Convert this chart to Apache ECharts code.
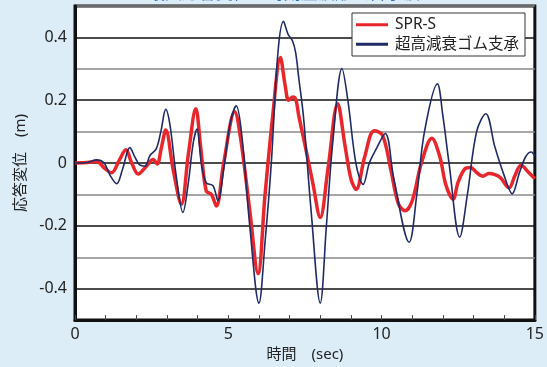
<!DOCTYPE html>
<html>
<head>
<meta charset="utf-8">
<script src="https://cdn.jsdelivr.net/npm/echarts@6/dist/echarts.min.js"></script>
<style>
  html, body { margin: 0; padding: 0; background: #ddedf8; }
  #chart { width: 547px; height: 367px; }
</style>
</head>
<body>
<div id="chart"></div>
<script>
// Response displacement time histories (seconds, metres)
const seriesNames = ['SPR-S', '超高減衰ゴム支承'];

const sprTime = [0, 0.4, 0.71, 0.95, 1.19, 1.45, 1.66, 1.85, 2.06, 2.33, 2.55, 2.68, 2.82, 2.96, 3.2, 3.47, 3.7, 3.94, 4.1, 4.28, 4.45, 4.61, 4.85, 5.21, 5.4, 5.7, 5.97, 6.2, 6.45, 6.7, 6.85, 6.97, 7.1, 7.2, 7.3, 7.48, 7.75, 8.0, 8.25, 8.57, 8.8, 9.0, 9.17, 9.45, 9.76, 10.03, 10.3, 10.55, 10.77, 11.0, 11.3, 11.64, 11.9, 12.1, 12.33, 12.5, 12.72, 12.9, 13.1, 13.3, 13.5, 13.7, 13.88, 14.16, 14.35, 14.55, 14.8, 15.0];
const sprDisp = [0, 0.002, 0.005, -0.015, -0.031, 0.01, 0.042, 0.0, -0.035, -0.01, 0.011, -0.003, 0.05, 0.105, -0.02, -0.131, 0.03, 0.173, 0.05, -0.089, -0.1, -0.137, 0.0, 0.163, 0.08, -0.15, -0.352, -0.1, 0.15, 0.336, 0.25, 0.2, 0.21, 0.203, 0.15, 0.068, -0.06, -0.173, -0.02, 0.189, 0.06, -0.05, -0.084, 0.02, 0.103, 0.089, -0.02, -0.13, -0.152, -0.12, 0.0, 0.079, 0.02, -0.07, -0.115, -0.06, -0.018, -0.014, -0.03, -0.042, -0.033, -0.037, -0.047, -0.079, -0.04, -0.007, -0.03, -0.05];

const hdrTime = [0, 0.4, 0.7, 0.95, 1.15, 1.36, 1.55, 1.79, 1.95, 2.1, 2.28, 2.45, 2.65, 2.8, 2.96, 3.1, 3.3, 3.52, 3.7, 3.85, 3.98, 4.12, 4.28, 4.5, 4.66, 4.85, 5.05, 5.26, 5.45, 5.7, 6.0, 6.2, 6.4, 6.62, 6.8, 6.95, 7.1, 7.2, 7.3, 7.45, 7.7, 8.0, 8.2, 8.41, 8.71, 8.9, 9.17, 9.4, 9.6, 9.8, 10.12, 10.4, 10.9, 11.15, 11.4, 11.82, 12.0, 12.2, 12.55, 12.8, 13.1, 13.4, 13.7, 14.0, 14.26, 14.5, 14.7, 14.88, 15.0];
const hdrDisp = [0, 0.002, 0.01, 0.0, -0.04, -0.066, -0.02, 0.049, 0.02, -0.005, -0.01, 0.025, 0.045, 0.1, 0.171, 0.12, -0.04, -0.157, -0.06, 0.06, 0.108, 0.0, -0.063, -0.072, -0.119, -0.02, 0.12, 0.182, 0.08, -0.2, -0.446, -0.25, -0.005, 0.352, 0.451, 0.41, 0.388, 0.35, 0.27, 0.15, -0.15, -0.446, -0.2, 0.068, 0.301, 0.2, -0.005, -0.068, 0.0, 0.04, 0.094, -0.05, -0.252, -0.1, 0.1, 0.252, 0.15, 0.0, -0.236, -0.1, 0.1, 0.157, 0.05, -0.04, -0.098, -0.03, 0.02, 0.035, 0.022];

const xTicks = [0, 5, 10, 15];
const yTickLabels = [-0.4, -0.2, 0, 0.2, 0.4];

const pairs = (t, v) => t.map((x, i) => [x, v[i]]);
const font = '"Noto Sans", "Noto Sans CJK JP", sans-serif';

const chart = echarts.init(document.getElementById('chart'), null, { renderer: 'canvas' });
chart.setOption({
  backgroundColor: '#ddedf8',
  animation: false,
  title: {
    text: '最大応答変位の時刻歴波形（告示波）',
    left: 143,
    top: -19,
    textStyle: { color: '#2a6fb8', fontSize: 17, fontWeight: 'normal', fontFamily: font }
  },
  grid: {
    left: 75, right: 11, top: 6, bottom: 43,
    show: true, backgroundColor: '#ffffff', borderColor: '#111', borderWidth: 3
  },
  legend: {
    data: seriesNames,
    orient: 'vertical',
    left: 352, top: 13,
    padding: [4, 6, 4, 4],
    itemGap: 4,
    itemWidth: 32, itemHeight: 3,
    icon: 'rect',
    backgroundColor: '#ffffff',
    borderColor: '#333', borderWidth: 1,
    textStyle: { color: '#222', fontSize: 15.5, fontFamily: font, padding: [0, 0, 0, 2] }
  },
  xAxis: {
    type: 'value', min: 0, max: 15, interval: 5,
    name: '時間　(sec)', nameLocation: 'middle', nameGap: 26,
    nameTextStyle: { color: '#222', fontSize: 15, fontFamily: font },
    axisLine: { show: true, onZero: false, lineStyle: { color: '#111', width: 3 } },
    axisTick: { show: true, inside: true, length: 5, lineStyle: { color: '#444' } },
    minorTick: { show: true, splitNumber: 5, length: 5, lineStyle: { color: '#444' } },
    splitLine: { show: false },
    axisLabel: {
      color: '#222', fontSize: 16, fontFamily: font, margin: 6,
      formatter: v => (xTicks.includes(v) ? String(v) : '')
    }
  },
  yAxis: {
    type: 'value', min: -0.5, max: 0.5, interval: 0.1,
    name: '応答変位　(m)', nameLocation: 'middle', nameGap: 36, nameRotate: 90,
    nameTextStyle: { color: '#222', fontSize: 15, fontFamily: font },
    axisLine: { show: true, onZero: false, lineStyle: { color: '#111', width: 3 } },
    axisTick: { show: false },
    splitLine: { show: true, lineStyle: { color: ['#888', '#111'], width: 1.5 } },
    axisLabel: {
      color: '#222', fontSize: 16, fontFamily: font, margin: 8,
      formatter: v => {
        const r = Math.round(v * 10) / 10;
        return yTickLabels.includes(r) ? String(r) : '';
      }
    }
  },
  series: [
    {
      name: seriesNames[0], type: 'line', data: pairs(sprTime, sprDisp),
      smooth: 0.35, symbol: 'none', z: 3,
      lineStyle: { color: '#e8262b', width: 3.5 }, itemStyle: { color: '#e8262b' }
    },
    {
      name: seriesNames[1], type: 'line', data: pairs(hdrTime, hdrDisp),
      smooth: 0.35, symbol: 'none', z: 4,
      lineStyle: { color: '#1e2b66', width: 1.6 }, itemStyle: { color: '#1e2b66' }
    }
  ]
});
</script>
</body>
</html>
